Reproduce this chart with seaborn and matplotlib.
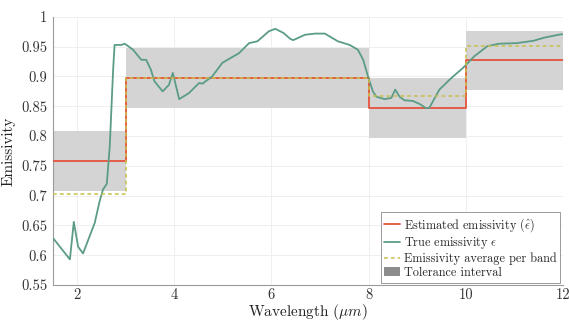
import numpy as np
import pandas as pd
import seaborn as sns
import matplotlib.pyplot as plt
from matplotlib.patches import Patch
from matplotlib.lines import Line2D

# band edges and per-band values
band_edges = [1.5, 3, 8, 10, 12]
estimated = [0.758, 0.897, 0.847, 0.927]
band_average = [0.702, 0.897, 0.868, 0.952]
tol_low = [0.708, 0.847, 0.797, 0.877]
tol_high = [0.808, 0.947, 0.897, 0.977]

# true emissivity spectrum
wavelength = [1.51, 1.85, 1.93, 2.02, 2.12, 2.36, 2.46, 2.53, 2.61, 2.67, 2.74, 2.77,
              2.91, 2.98, 3.15, 3.32, 3.42, 3.52, 3.59, 3.76, 3.89, 3.97, 4.1, 4.3,
              4.51, 4.58, 4.78, 4.99, 5.33, 5.54, 5.71, 5.95, 6.08, 6.25, 6.39, 6.45,
              6.69, 6.9, 7.1, 7.37, 7.61, 7.78, 7.89, 7.99, 8.09, 8.16, 8.33, 8.47,
              8.55, 8.64, 8.74, 8.91, 9.05, 9.18, 9.25, 9.46, 9.7, 9.94, 10.18, 10.45,
              10.69, 11.06, 11.4, 11.61, 11.91, 12.0]
true_emis = [0.628, 0.593, 0.656, 0.614, 0.603, 0.654, 0.69, 0.71, 0.72, 0.782, 0.911, 0.953,
             0.953, 0.955, 0.945, 0.928, 0.928, 0.911, 0.892, 0.875, 0.886, 0.906, 0.862, 0.872,
             0.889, 0.888, 0.9, 0.923, 0.939, 0.956, 0.959, 0.976, 0.98, 0.973, 0.963, 0.961,
             0.97, 0.972, 0.972, 0.959, 0.953, 0.945, 0.928, 0.9, 0.875, 0.866, 0.862, 0.864,
             0.878, 0.866, 0.86, 0.859, 0.854, 0.847, 0.847, 0.878, 0.897, 0.914, 0.934, 0.951,
             0.955, 0.956, 0.96, 0.965, 0.97, 0.971]

sns.set_style("whitegrid")
plt.rcParams['font.family'] = ['cmr10', 'DejaVu Serif']
plt.rcParams['mathtext.fontset'] = 'cm'
plt.rcParams['axes.formatter.use_mathtext'] = True

fig = plt.figure(figsize=(5.69, 3.25), dpi=100)
ax = fig.add_axes([0.093, 0.123, 0.896, 0.825])

red = '#e5533c'
green = '#5b9c86'
yellow = '#c9c04a'
tol_color = '#d4d4d4'

steps = pd.DataFrame({
    'x': band_edges,
    'est': estimated + [estimated[-1]],
    'avg': band_average + [band_average[-1]],
    'lo': tol_low + [tol_low[-1]],
    'hi': tol_high + [tol_high[-1]],
})
spec = pd.DataFrame({'wavelength': wavelength, 'emissivity': true_emis})

ax.fill_between(steps['x'], steps['lo'], steps['hi'], step='post',
                color=tol_color, linewidth=0, zorder=1)
sns.lineplot(data=steps, x='x', y='est', drawstyle='steps-post', color=red,
             linewidth=1.3, ax=ax, zorder=3)
sns.lineplot(data=spec, x='wavelength', y='emissivity', color=green,
             linewidth=1.3, ax=ax, zorder=4)
sns.lineplot(data=steps, x='x', y='avg', drawstyle='steps-post', color=yellow,
             linewidth=1.1, linestyle=(0, (2.5, 2)), ax=ax, zorder=5)

ax.set_xlim(1.5, 12)
ax.set_ylim(0.55, 1.0)
xt = [2, 4, 6, 8, 10, 12]
yt = [0.55, 0.6, 0.65, 0.7, 0.75, 0.8, 0.85, 0.9, 0.95, 1.0]
ax.set_xticks(xt)
ax.set_xticklabels([str(v) for v in xt])
ax.set_yticks(yt)
ax.set_yticklabels(['0.55', '0.6', '0.65', '0.7', '0.75', '0.8', '0.85', '0.9', '0.95', '1'])
ax.tick_params(labelsize=10.5, colors='#333333', length=0, pad=4)
ax.tick_params(axis='x', pad=2)
ax.grid(True, color='#efefef', linewidth=0.7)
for s in ['top', 'right']:
    ax.spines[s].set_visible(False)
for s in ['left', 'bottom']:
    ax.spines[s].set_color('#9a9a9a')
    ax.spines[s].set_linewidth(0.8)

ax.set_xlabel(r'Wavelength ($\mu m$)', fontsize=11, color='#222222', labelpad=0)
ax.set_ylabel('Emissivity', fontsize=11, color='#222222', labelpad=4)

handles = [
    Line2D([], [], color=red, linewidth=1.3),
    Line2D([], [], color=green, linewidth=1.3),
    Line2D([], [], color=yellow, linewidth=1.1, linestyle=(0, (2.5, 2))),
    Patch(facecolor='#8c8c8c', edgecolor='none'),
]
labels = [r'Estimated emissivity ($\hat{\epsilon}$)', r'True emissivity $\epsilon$',
          'Emissivity average per band', 'Tolerance interval']
leg = ax.legend(handles, labels, loc='lower right', fontsize=8.8, frameon=True,
                fancybox=False, edgecolor='#9a9a9a', framealpha=1,
                handlelength=1.3, handletextpad=0.3, labelspacing=0.12,
                borderpad=0.3, borderaxespad=0.2)
leg.get_frame().set_linewidth(0.7)

fig.savefig('out.png', dpi=100)
